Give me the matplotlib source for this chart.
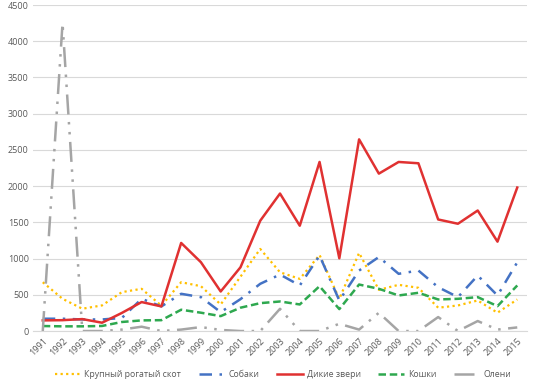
import numpy as np
import matplotlib
matplotlib.use("Agg")
import matplotlib.pyplot as plt

plt.rcParams['font.family'] = ['Open Sans', 'DejaVu Sans']

years = [str(y) for y in range(1991, 2016)]

cattle = [674, 445, 308, 354, 537, 583, 350, 674, 619, 367, 750, 1133, 811, 720,
          1050, 445, 1078, 569, 638, 597, 322, 353, 422, 253, 436]
dogs = [170, 170, 160, 160, 180, 445, 340, 514, 468, 261, 440, 652, 780, 629,
        1041, 422, 835, 1022, 790, 835, 605, 468, 766, 491, 949]
wild = [147, 150, 165, 115, 250, 400, 340, 1216, 950, 546, 880, 1523, 1898, 1454,
        2334, 1004, 2646, 2173, 2334, 2316, 1540, 1481, 1664, 1234, 1981]
cats = [69, 65, 65, 70, 125, 147, 150, 294, 253, 206, 322, 385, 408, 367,
        619, 303, 642, 583, 491, 528, 436, 445, 468, 344, 629]
deer = [0, 4250, 0, 0, 20, 60, 0, 20, 55, 15, 0, 0, 307, 0,
        0, 100, 20, 252, 0, 0, 193, 0, 138, 20, 50]

labels = ["Крупный рогатый скот", "Собаки", "Дикие звери", "Кошки", "Олени"]

fig = plt.figure(figsize=(5.39, 3.89), dpi=100)
ax = fig.add_axes([0.061, 0.149, 0.917, 0.838])
x = np.arange(len(years))

ax.plot(x, cattle, color="#FFC000", lw=1.6, ls=(0, (1, 1.5)), label=labels[0])
ax.plot(x, dogs, color="#4472C4", lw=1.8, ls=(0, (5, 3, 1, 3)), label=labels[1])
ax.plot(x, wild, color="#E03131", lw=1.8, ls="-", label=labels[2])
ax.plot(x, cats, color="#2EA84F", lw=1.8, ls=(0, (3, 1.5)), label=labels[3])
ax.plot(x, deer, color="#A5A5A5", lw=1.8, ls=(0, (8, 3, 1, 3, 1, 3)), label=labels[4])

ax.set_xlim(-0.5, len(years) - 0.5)
ax.set_ylim(0, 4500)
ax.set_yticks(np.arange(0, 4501, 500))
ax.set_xticks(x)
ax.set_xticklabels(years, rotation=45, ha="right", rotation_mode="anchor")
ax.tick_params(axis="both", length=0, labelsize=6.5, colors="#595959", pad=3)
ax.tick_params(axis="x", pad=4)
ax.grid(axis="y", color="#D9D9D9", lw=0.8)
ax.set_axisbelow(True)
for s in ["top", "right", "left"]:
    ax.spines[s].set_visible(False)
ax.spines["bottom"].set_color("#D9D9D9")

fig.legend(loc="lower center", ncol=5, frameon=False, fontsize=6.3,
           bbox_to_anchor=(0.525, 0.005), handlelength=3.0, columnspacing=2.0,
           handletextpad=0.4, labelcolor="#595959")

fig.savefig("out.png", dpi=100)
